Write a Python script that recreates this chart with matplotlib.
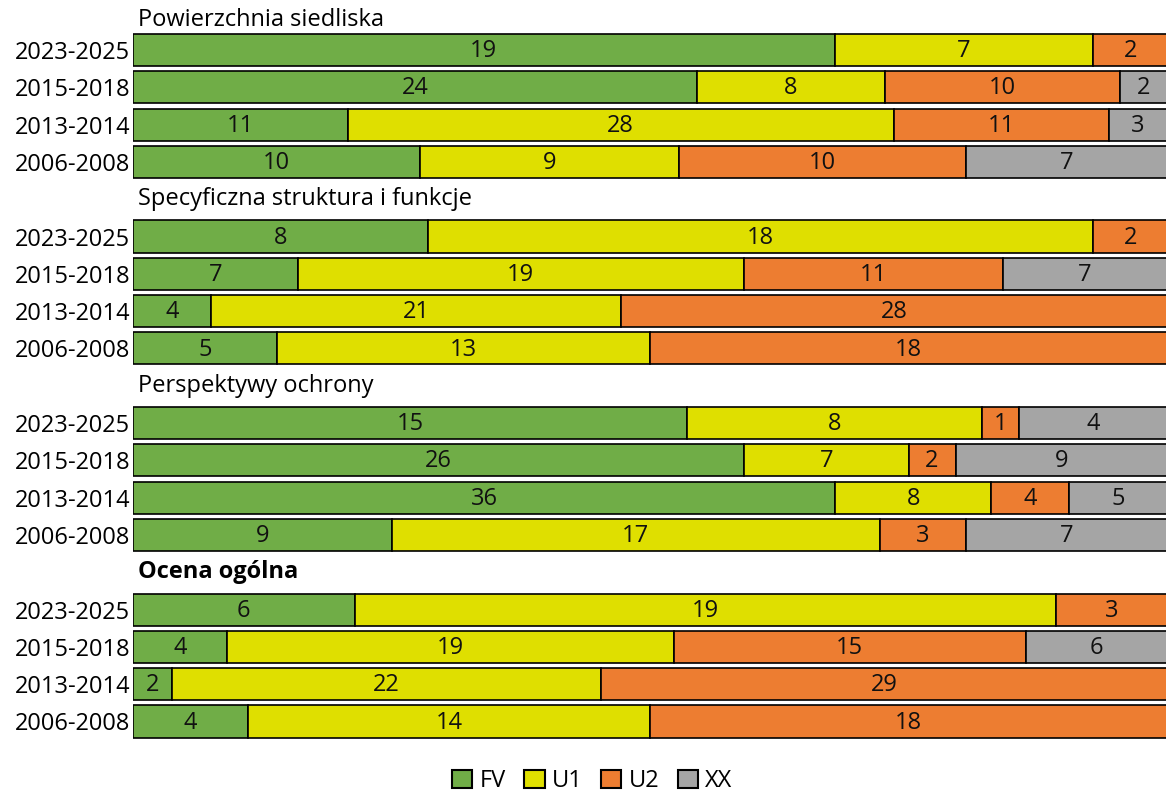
import matplotlib
matplotlib.use("Agg")
import matplotlib.pyplot as plt
import numpy as np
from matplotlib.patches import Patch

plt.rcParams['font.family'] = ['Open Sans', 'DejaVu Sans']

groups = ['Powierzchnia siedliska', 'Specyficzna struktura i funkcje',
          'Perspektywy ochrony', 'Ocena ogólna']
periods = ['2023-2025', '2015-2018', '2013-2014', '2006-2008']
categories = ['FV', 'U1', 'U2', 'XX']
colors = ['#70AD47', '#DFDF00', '#ED7D31', '#A5A5A5']

# one entry per row: 4 groups x 4 periods
fv = [19, 24, 11, 10,   8, 7, 4, 5,     15, 26, 36, 9,   6, 4, 2, 4]
u1 = [7, 8, 28, 9,      18, 19, 21, 13, 8, 7, 8, 17,     19, 19, 22, 14]
u2 = [2, 10, 11, 10,    2, 11, 28, 18,  1, 2, 4, 3,      3, 15, 29, 18]
xx = [0, 2, 3, 7,       0, 7, 0, 0,     4, 9, 5, 7,      0, 6, 0, 0]

series = np.array([fv, u1, u2, xx], dtype=float)
totals = series.sum(axis=0)
shares = series / totals

fig = plt.figure(figsize=(11.66, 8), dpi=100)
ax = fig.add_axes([133 / 1166, 55 / 800, 1 - 133 / 1166, 745 / 800])

ypos = []
for g in range(len(groups)):
    for r in range(len(periods)):
        ypos.append(g * 5 + r + 1)
ypos = np.array(ypos)

fs = 17
left = np.zeros(len(ypos))
for i, cat in enumerate(categories):
    w = shares[i]
    ax.barh(ypos, w, left=left, height=0.86, color=colors[i],
            edgecolor='black', linewidth=1.2, label=cat)
    for y, l, ww, v in zip(ypos, left, w, series[i]):
        if v > 0:
            ax.text(l + ww / 2, y + 0.03, str(int(v)), ha='center', va='center',
                    fontsize=fs, color='#111111')
    left = left + w

title_y = [0.2, 5, 10, 15]
for g, t in enumerate(groups):
    ax.text(0.005, title_y[g], t, ha='left', va='center', fontsize=fs,
            fontweight='bold' if g == 3 else 'normal', clip_on=False)

ax.set_xlim(0, 0.999)
ax.set_ylim(19.63, -0.34)
ax.set_yticks(ypos)
ax.set_yticklabels(periods * len(groups), fontsize=fs)
ax.tick_params(axis='y', length=0, pad=2)
ax.set_xticks([])
for s in ax.spines.values():
    s.set_visible(False)

handles = [Patch(facecolor=c, edgecolor='black', linewidth=1.5, label=n)
           for c, n in zip(colors, categories)]
fig.legend(handles=handles, loc='lower center', bbox_to_anchor=(0.508, -0.018),
           ncol=4, frameon=False, fontsize=fs, handlelength=0.85, handleheight=0.85,
           handletextpad=0.3, columnspacing=0.8)

fig.savefig('out.png', dpi=100)
